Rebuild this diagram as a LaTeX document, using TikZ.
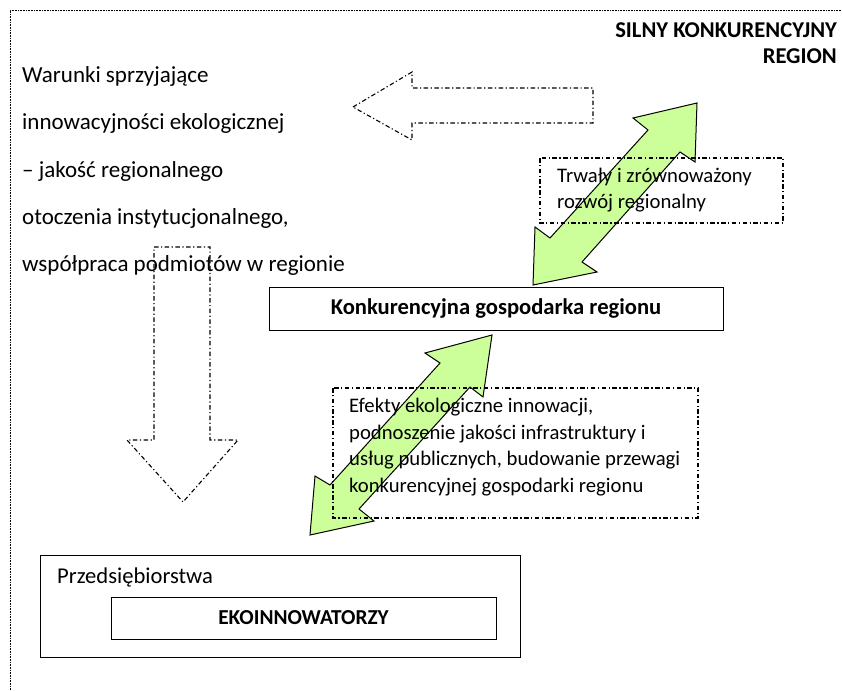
\documentclass[tikz,border=0pt]{standalone}
\usepackage{fontspec}
\setmainfont{Carlito}
\usetikzlibrary{calc}

\definecolor{lime}{RGB}{204,255,153}

\begin{document}
\begin{tikzpicture}[
  x=1pt, y=-1pt,
  txt/.style  ={inner sep=0,anchor=base west,font=\fontsize{23}{27}\selectfont},
  sml/.style  ={inner sep=0,anchor=base west,font=\fontsize{20.7}{24}\selectfont},
  hdr/.style  ={inner sep=0,anchor=base east,font=\fontsize{22.6}{26}\selectfont\bfseries},
  box/.style  ={draw,rectangle,line width=0.9pt,inner sep=0},
  dbox/.style ={draw,line width=1.1pt,dash pattern=on 4.5pt off 2.5pt on 1.2pt off 2.5pt},
  frame/.style={draw,line width=0.8pt,dash pattern=on 0.8pt off 0.8pt},
  garrow/.style={draw,fill=lime,line width=1pt,line join=miter},
]
\useasboundingbox (0,0) rectangle (842,690);

% ------------------------------------------------------------ region frame
\draw[frame] (10,690) -- (10,10) -- (842,10);
\node[hdr] (silny) at (837,38) {SILNY KONKURENCYJNY};
\node[hdr] (region) at (837,64) {REGION};

% ------------------------------------------------------------ open arrows
% pointing left (towards the conditions text)
\draw[dbox] (353,107) -- (412,72) -- (412,88) -- (593,88) -- (593,123)
  -- (412,123) -- (412,140) -- cycle;
% pointing down (towards the enterprises)
\draw[dbox] (154,247) -- (210,247) -- (210,440) -- (238,440) -- (183,502)
  -- (127,440) -- (154,440) -- cycle;

% left text, one line per node
\foreach \t [count=\i from 0] in {Warunki sprzyjające,
    innowacyjności ekologicznej,
    -- jakość regionalnego,
    otoczenia instytucjonalnego{,},
    współpraca podmiotów w regionie} {
  \node[txt] (war\i) at (22,82.5+47.3*\i) {\t};
}

% ------------------------------------------------------------ green double arrows
\draw[garrow] (697,103) -- (695,162) -- (680,152) -- (582,262) -- (597,272)
  -- (533,285) -- (535,227) -- (550,238) -- (648,130) -- (633,118) -- cycle;
\draw[garrow] (492,335) -- (483,397) -- (470,387) -- (359,509) -- (374,521)
  -- (310,535) -- (315,476) -- (330,485) -- (440,363) -- (425,353) -- cycle;

% ------------------------------------------------------------ boxes
\draw[dbox] (540,158) rectangle (783,223);
\node[sml] (trw1) at (557,182.5) {Trwały i zrównoważony};
\node[sml] (trw2) at (557,208.5) {rozwój regionalny};

\node[box,fill=white,minimum width=454pt,minimum height=43pt,
      font=\fontsize{22.6}{26}\selectfont\bfseries] (kgr) at (496,308.5)
  {Konkurencyjna gospodarka regionu};

\draw[dbox] (333,388) rectangle (698,518);
\foreach \t [count=\i from 0] in {Efekty ekologiczne innowacji{,},
    podnoszenie jakości infrastruktury i,
    usług publicznych{,} budowanie przewagi,
    konkurencyjnej gospodarki regionu} {
  \node[sml] (efe\i) at (349,412.5+26.7*\i) {\t};
}

% ------------------------------------------------------------ enterprises
\node[box,minimum width=480pt,minimum height=102pt] (prz) at (280,606) {};
\node[sml,font=\fontsize{22.6}{26}\selectfont] (przt) at (57,583) {Przedsiębiorstwa};
\node[box,minimum width=385pt,minimum height=42pt,
      font=\fontsize{21.3}{25}\selectfont\bfseries] (eko) at (303.5,618) {EKOINNOWATORZY};

\end{tikzpicture}
\end{document}
